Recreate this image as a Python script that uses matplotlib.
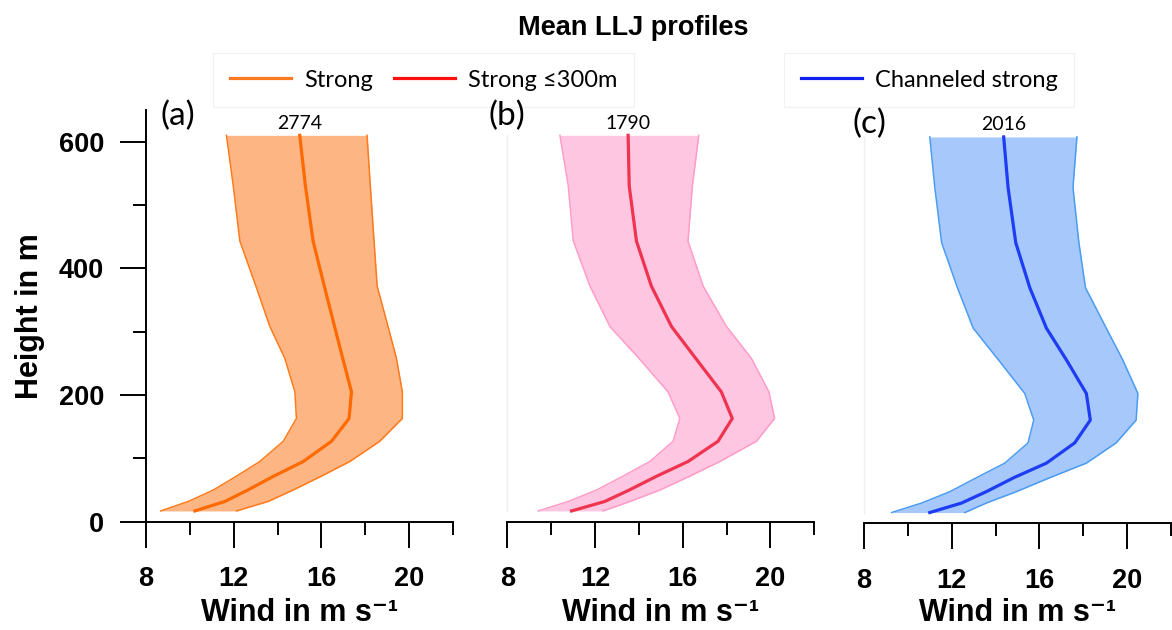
import matplotlib
matplotlib.use("Agg")
import matplotlib.pyplot as plt
from matplotlib.lines import Line2D

plt.rcParams['font.family'] = ['Liberation Sans', 'DejaVu Sans']

# height levels (m)
heights = [17, 32, 50, 72, 95, 127, 163, 205, 258, 308, 372, 443, 530, 610]

# (a) strong
a_mean = [10.23, 11.60, 12.64, 13.83, 15.17, 16.46, 17.26, 17.37, 16.97, 16.60, 16.13, 15.62, 15.27, 15.01]
a_lo = [8.67, 9.93, 11.07, 12.13, 13.19, 14.26, 14.86, 14.79, 14.33, 13.65, 13.01, 12.28, 11.98, 11.67]
a_hi = [12.13, 13.57, 14.71, 16.00, 17.29, 18.66, 19.69, 19.69, 19.42, 19.04, 18.54, 18.40, 18.23, 18.08]

# (b) strong <=300m
b_mean = [10.93, 12.45, 13.56, 14.82, 16.24, 17.61, 18.26, 17.76, 16.59, 15.49, 14.57, 13.89, 13.56, 13.51]
b_lo = [9.41, 10.78, 12.07, 13.28, 14.50, 15.56, 15.87, 15.33, 14.00, 12.68, 11.77, 11.01, 10.78, 10.40]
b_hi = [12.37, 13.60, 14.96, 16.33, 17.69, 19.36, 20.19, 19.93, 19.13, 18.00, 16.93, 16.24, 16.44, 16.73]

# (c) channeled strong
c_mean = [11.00, 12.45, 13.58, 14.83, 16.32, 17.61, 18.32, 18.14, 17.23, 16.32, 15.56, 14.92, 14.57, 14.37]
c_lo = [9.26, 10.63, 11.92, 13.13, 14.42, 15.48, 15.74, 15.33, 14.13, 12.98, 12.26, 11.54, 11.23, 11.00]
c_hi = [12.60, 13.58, 14.95, 16.47, 18.14, 19.50, 20.41, 20.49, 19.80, 19.05, 18.10, 17.80, 17.53, 17.71]

counts = ['2774', '1790', '2016']
panel_labels = ['(a)', '(b)', '(c)']
legend_labels = ['Strong', 'Strong \u2264300m', 'Channeled strong']

line_colors = ['#ff6a00', '#f0334f', '#1f3cf5']
edge_colors = ['#ff7a1a', '#ff9cc8', '#4a9cf2']
fill_colors = ['#fdb584', '#ffc6e1', '#a6c8fa']
legend_colors = ['#ff7a22', '#ff1010', '#1020f0']

sans2 = ['Lato', 'DejaVu Sans']

fig = plt.figure(figsize=(11.72, 6.3), dpi=100)

W, H = 1172.0, 630.0
panels = [
    (146, 521.7, a_mean, a_lo, a_hi),
    (507.3, 521.7, b_mean, b_lo, b_hi),
    (864, 523.3, c_mean, c_lo, c_hi),
]
label_y = [640, 640, 630]

# legends first, behind the panels
h1 = [Line2D([], [], color=legend_colors[0], lw=2.3),
      Line2D([], [], color=legend_colors[1], lw=2.3)]
leg1 = fig.legend(h1, legend_labels[:2], loc='upper left',
                  bbox_to_anchor=(213 / W, 1 - 53 / H), ncol=2, frameon=True,
                  fancybox=False, edgecolor='#eeeeee', prop={'family': sans2, 'size': 17},
                  handlelength=2.6, handletextpad=0.55, columnspacing=0.9,
                  borderpad=0.7, borderaxespad=0)
leg1.get_frame().set_linewidth(0.8)
leg1.set_zorder(0)
h2 = [Line2D([], [], color=legend_colors[2], lw=2.3)]
leg2 = fig.legend(h2, legend_labels[2:], loc='upper left',
                  bbox_to_anchor=(784 / W, 1 - 53 / H), frameon=True,
                  fancybox=False, edgecolor='#eeeeee', prop={'family': sans2, 'size': 17},
                  handlelength=2.6, handletextpad=0.55, borderpad=0.7, borderaxespad=0)
leg2.get_frame().set_linewidth(0.8)
leg2.set_zorder(0)

for i, (x0, y0, mean, lo, hi) in enumerate(panels):
    ax = fig.add_axes([x0 / W, (H - y0) / H, 307 / W, 411.7 / H])
    ax.set_zorder(2)
    ax.patch.set_visible(False)
    ax.fill_betweenx(heights, lo, hi, color=fill_colors[i], lw=0)
    ax.plot(lo, heights, color=edge_colors[i], lw=1.1)
    ax.plot(hi, heights, color=edge_colors[i], lw=1.1)
    ax.plot(mean, heights, color=line_colors[i], lw=2.3)
    ax.set_xlim(8, 22)
    ax.set_ylim(0, 650)
    ax.set_xticks([8, 12, 16, 20])
    ax.set_xticks([10, 14, 18, 22], minor=True)
    for s in ['top', 'right']:
        ax.spines[s].set_visible(False)
    ax.spines['bottom'].set_linewidth(1.4)
    ax.tick_params(axis='x', which='major', length=19, width=1.4, pad=13,
                   labelsize=19.5)
    ax.tick_params(axis='x', which='minor', length=9.5, width=1.4)
    for t in ax.get_xticklabels():
        t.set_fontweight('bold')
    ax.set_xlabel('Wind in m s\u207b\u00b9', fontsize=22, fontweight='bold', va='center')
    ax.xaxis.set_label_coords(0.5, (y0 - 613) / 411.7)
    if i == 0:
        ax.spines['left'].set_linewidth(1.4)
        ax.set_yticks([0, 200, 400, 600])
        ax.set_yticks([100, 300, 500], minor=True)
        ax.tick_params(axis='y', which='major', length=19, width=1.4, pad=11,
                       labelsize=19.5)
        ax.tick_params(axis='y', which='minor', length=9.5, width=1.4)
        for t in ax.get_yticklabels():
            t.set_fontweight('bold')
        ax.set_ylabel('Height in m', fontsize=22, fontweight='bold', va='center')
        ax.yaxis.set_label_coords((30 - x0) / 307, 0.5)
    else:
        ax.spines['left'].set_color('#efefef')
        ax.spines['left'].set_linewidth(1.0)
        ax.spines['left'].set_bounds(heights[0], heights[-1])
        ax.set_yticks([])
    ax.text(mean[-1], 629, counts[i], ha='center', va='center', fontsize=14,
            family=sans2, clip_on=False)
    lx = [9.45, 8.0, 8.23][i]
    ax.text(lx, label_y[i], panel_labels[i], ha='center', va='center', fontsize=24,
            family=sans2, clip_on=False)

fig.text(633 / W, 1 - 28 / H, 'Mean LLJ profiles', ha='center', va='center',
         fontsize=19.5, fontweight='bold')

fig.savefig('out.png', dpi=100)
